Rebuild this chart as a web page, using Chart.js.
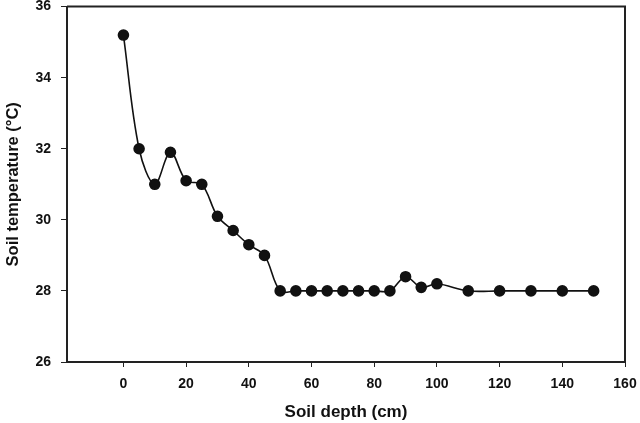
<!DOCTYPE html>
<html><head><meta charset="utf-8">
<script src="https://cdn.jsdelivr.net/npm/chart.js@4"></script>
<style>html,body{margin:0;padding:0;background:#fff}#wrap{width:640px;height:423px}</style>
</head><body><div id="wrap"><canvas id="c" width="640" height="423"></canvas></div>
<script>
const depths = [0,5,10,15,20,25,30,35,40,45,50,55,60,65,70,75,80,85,90,95,100,110,120,130,140,150];
const temps = [35.2,32.0,31.0,31.9,31.1,31.0,30.1,29.7,29.3,29.0,28.0,28.0,28.0,28.0,28.0,28.0,28.0,28.0,28.4,28.1,28.2,28.0,28.0,28.0,28.0,28.0];
const xTicks = [0,20,40,60,80,100,120,140,160];
const yTicks = [26,28,30,32,34,36];

const pts = depths.map((d,i)=>({x:d,y:temps[i]}));
const boxPlugin = {
  id:'box',
  afterDraw(chart){
    const a = chart.chartArea, ctx = chart.ctx;
    ctx.save();
    ctx.strokeStyle='#222'; ctx.lineWidth=2;
    ctx.beginPath();
    ctx.moveTo(a.left, a.top); ctx.lineTo(a.right, a.top); ctx.lineTo(a.right, a.bottom);
    ctx.stroke();
    ctx.restore();
  }
};
Chart.defaults.font.family = '"Liberation Sans", Arial, sans-serif';
Chart.defaults.color = '#111';
new Chart(document.getElementById('c'), {
  type:'scatter',
  data:{datasets:[{data:pts, showLine:true, borderColor:'#111', backgroundColor:'#111',
    borderWidth:1.6, pointRadius:5, pointHoverRadius:5, tension:0.35}]},
  options:{
    responsive:false, animation:false,
    layout:{padding:{left:0,right:15,top:0,bottom:0}},
    plugins:{legend:{display:false}, tooltip:{enabled:false}},
    scales:{
      x:{type:'linear', min:-18, max:160,
        afterBuildTicks(s){ s.ticks = xTicks.map(v=>({value:v})); },
        afterFit(s){ s.height = 61; s.paddingLeft = 0; s.paddingRight = 0; },
        border:{display:true, color:'#222', width:2},
        grid:{drawOnChartArea:false, drawTicks:true, tickLength:5, tickColor:'#222'},
        ticks:{font:{size:14, weight:'bold'}, padding:9, maxRotation:0},
        title:{display:true, text:'Soil depth (cm)', font:{size:17, weight:'bold'}, padding:{top:1, bottom:0}}
      },
      y:{type:'linear', min:26, max:36,
        afterBuildTicks(s){ s.ticks = yTicks.map(v=>({value:v})); },
        afterFit(s){ s.width = 67; s.paddingTop = 6; s.paddingBottom = 0; },
        border:{display:true, color:'#222', width:2},
        grid:{drawOnChartArea:false, drawTicks:true, tickLength:6, tickColor:'#222'},
        ticks:{font:{size:14, weight:'bold'}, padding:10},
        title:{display:true, text:'Soil temperature (°C)', font:{size:16.5, weight:'bold'}, padding:{bottom:0}}
      }
    }
  },
  plugins:[boxPlugin]
});
</script></body></html>
